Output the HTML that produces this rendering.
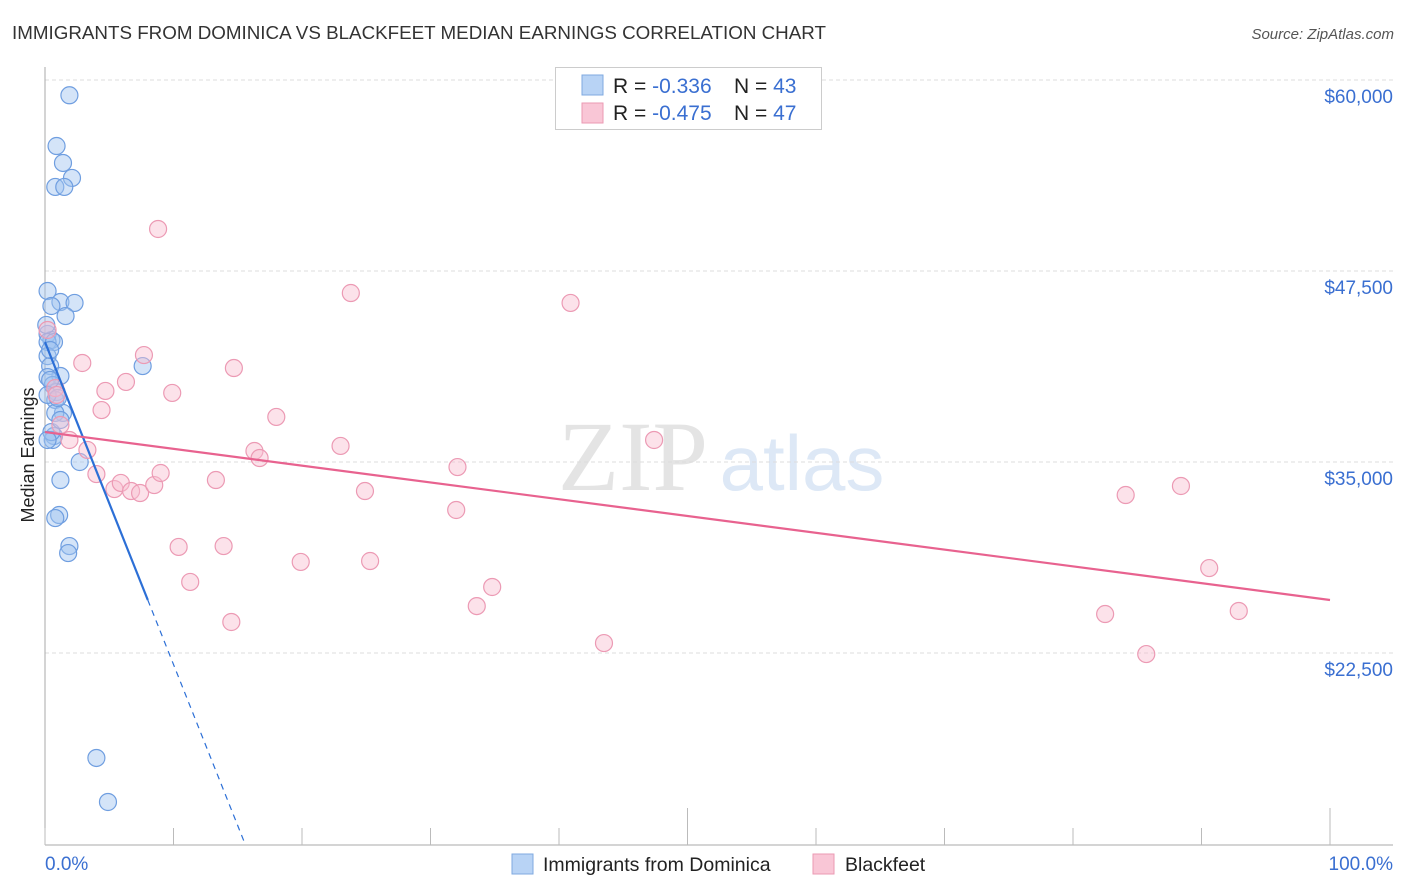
<!DOCTYPE html>
<html><head><meta charset="utf-8">
<style>
body{margin:0;background:#fff;font-family:"Liberation Sans",sans-serif;}
#wrap{position:relative;width:1406px;height:892px;overflow:hidden;}
svg{position:absolute;left:0;top:0;}
</style></head>
<body>
<div id="wrap">
<svg id="chart" width="1406" height="892">
  <text x="12" y="39" font-size="18.8" fill="#333">IMMIGRANTS FROM DOMINICA VS BLACKFEET MEDIAN EARNINGS CORRELATION CHART</text>
  <text x="1394" y="39" font-size="15" fill="#555" font-style="italic" text-anchor="end">Source: ZipAtlas.com</text>
  <text x="633" y="490" font-size="100" font-family="Liberation Serif,serif" fill="#e4e4e4" text-anchor="middle">ZIP</text>
  <text x="802" y="490" font-size="78" fill="#dde8f6" text-anchor="middle">atlas</text>
  <g id="grid"></g>
  <g id="axes"></g>
  <g id="pts"></g>
  <g id="trends"></g>
  <text transform="translate(34,455) rotate(-90)" font-size="18" fill="#222" text-anchor="middle">Median Earnings</text>
  <g>
    <rect x="555.5" y="67.5" width="266" height="62" fill="#fff" stroke="#ccc"/>
    <rect x="582" y="75" width="21" height="20" fill="#b8d3f5" stroke="#7fa9e0"/>
    <rect x="582" y="103" width="21" height="20" fill="#f9c6d6" stroke="#eb9ab3"/>
    <text x="613" y="93" font-size="21" fill="#222">R = <tspan fill="#3a6fd1">-0.336</tspan></text>
    <text x="734" y="93" font-size="21" fill="#222">N = <tspan fill="#3a6fd1">43</tspan></text>
    <text x="613" y="120" font-size="21" fill="#222">R = <tspan fill="#3a6fd1">-0.475</tspan></text>
    <text x="734" y="120" font-size="21" fill="#222">N = <tspan fill="#3a6fd1">47</tspan></text>
  </g>
  <g>
    <rect x="512" y="854" width="21" height="20" fill="#b8d3f5" stroke="#7fa9e0"/>
    <text x="543" y="871" font-size="19.5" fill="#222">Immigrants from Dominica</text>
    <rect x="813" y="854" width="21" height="20" fill="#f9c6d6" stroke="#eb9ab3"/>
    <text x="845" y="871" font-size="19.5" fill="#222">Blackfeet</text>
  </g>
</svg>
</div>
<script>
const yTicks=[60000,47500,35000,22500];
const yTickLabels=["$60,000","$47,500","$35,000","$22,500"];
const xTickLabels=["0.0%","100.0%"];
const blueX=[1.9,0.9,1.4,2.1,0.8,1.5,0.2,1.2,2.3,0.5,1.6,0.2,0.5,0.2,0.7,0.2,0.4,1.2,0.2,0.6,0.9,0.8,1.4,0.8,7.6,0.7,0.6,2.7,1.2,1.1,0.8,1.9,1.8,4.0,4.9,0.4,0.2,1.0,0.5,0.1,0.4,1.2,0.2];
const blueY=[59000,55680,54570,53590,53000,53000,46190,45470,45410,45210,44550,43380,42980,42850,42850,41930,41280,40630,40560,40040,39580,39060,38210,38210,41280,36700,36440,35000,33820,31530,31330,29500,29040,15630,12750,40370,39390,39190,36960,43970,42330,37750,36440];
const pinkX=[8.8,23.8,40.9,2.9,7.7,14.7,4.7,6.3,9.9,4.4,18.0,0.2,0.8,1.2,1.9,3.3,4.0,5.4,5.9,6.7,7.4,8.5,9.0,13.3,16.3,16.7,23.0,24.9,32.1,32.0,47.4,10.4,11.3,13.9,14.5,19.9,25.3,33.6,34.8,43.5,84.1,88.4,90.6,82.5,85.7,92.9,0.9];
const pinkY=[50250,46060,45410,41480,42000,41150,39650,40240,39520,38400,37950,43640,39840,37420,36440,35790,34210,33230,33630,33100,32970,33490,34280,33820,35720,35260,36050,33100,34670,31860,36440,29440,27150,29500,24530,28460,28520,25570,26820,23150,32840,33430,28060,25050,22430,25250,39390];
const blueTrend=[42850,-2110];
const pinkTrend=[36960,25970];

const NS="http://www.w3.org/2000/svg";
const X=p=>45+p/100*1285;
const Y=v=>80+(60000-v)/12500*191;
function mk(tag,attrs,parent){const e=document.createElementNS(NS,tag);for(const k in attrs)e.setAttribute(k,attrs[k]);document.getElementById(parent).appendChild(e);return e;}

yTicks.forEach((v,i)=>{
  const l=mk('line',{x1:45,x2:1393,y1:Y(v),y2:Y(v),stroke:'#ddd','stroke-dasharray':'4,3'},'grid');
  
  
  const t=mk('text',{x:1393,y:Y(v)+23,'font-size':19,fill:'#3a6fd1','text-anchor':'end'},'grid');
  t.textContent=yTickLabels[i];
  
  
});
const ya=mk('line',{x1:45,x2:45,y1:67,y2:845,stroke:'#aaa'},'axes');


const xa=mk('line',{x1:45,x2:1393,y1:845,y2:845,stroke:'#aaa'},'axes');


for(let i=0;i<=10;i++){
  const top=(i===5||i===10)?808:828;
  const tk=mk('line',{x1:X(i*10),x2:X(i*10),y1:top,y2:845,stroke:'#bbb'},'axes');
  
  
}
[[0,'start',45],[100,'end',1393]].forEach((d,i)=>{
  const t=mk('text',{x:d[2],y:870,'font-size':19,fill:'#3a6fd1','text-anchor':d[1]},'axes');
  t.textContent=xTickLabels[i];
  
  
});

blueX.forEach((x,i)=>{
  const c=mk('circle',{cx:X(x),cy:Y(blueY[i]),r:8.5,fill:'rgba(160,196,240,0.45)',stroke:'#6f9ee0','stroke-width':1.2},'pts');
  
  
});
pinkX.forEach((x,i)=>{
  const c=mk('circle',{cx:X(x),cy:Y(pinkY[i]),r:8.5,fill:'rgba(248,190,208,0.45)',stroke:'#ec9ab4','stroke-width':1.2},'pts');
  
  
});

const bv=p=>blueTrend[0]+blueTrend[1]*p;
const pEnd=(10000-blueTrend[0])/blueTrend[1];
const b1=mk('line',{x1:X(0),y1:Y(bv(0)),x2:X(8),y2:Y(bv(8)),stroke:'#2c6fd6','stroke-width':2.2},'trends');


const b2=mk('line',{x1:X(8),y1:Y(bv(8)),x2:X(pEnd),y2:Y(10000),stroke:'#2c6fd6','stroke-width':1.2,'stroke-dasharray':'6,5'},'trends');


const p1=mk('line',{x1:X(0),y1:Y(pinkTrend[0]),x2:X(100),y2:Y(pinkTrend[1]),stroke:'#e8628f','stroke-width':2.2},'trends');


</script>
</body></html>
